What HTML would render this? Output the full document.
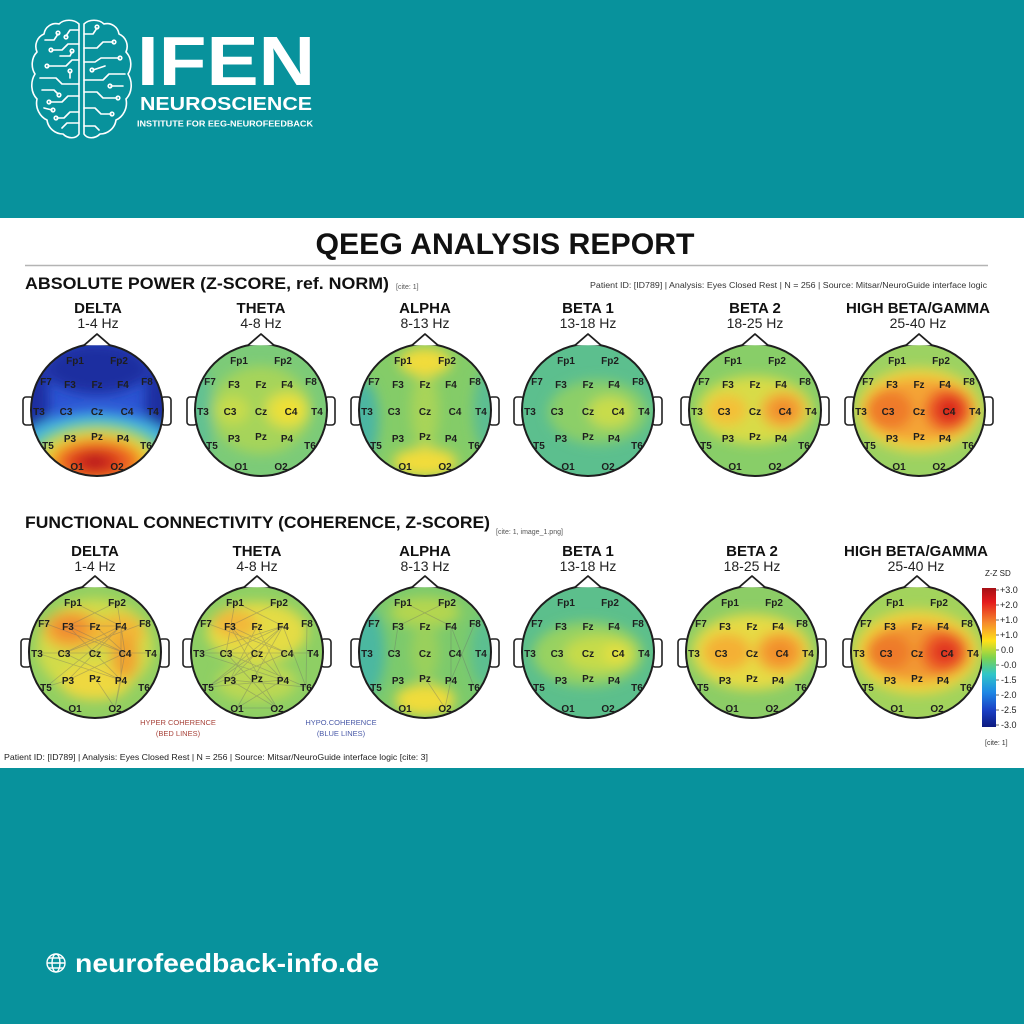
<!DOCTYPE html>
<html><head><meta charset="utf-8">
<style>
html,body{margin:0;padding:0;background:#08929c;}
svg{display:block;}
.lb text{font-family:"Liberation Sans",sans-serif;font-weight:bold;font-size:10px;text-anchor:middle;fill:#1e1e1e;}
.ear{fill:#fff;stroke:#222;stroke-width:1.6;}
.hd{fill:none;stroke:#1e1e1e;stroke-width:2;}
.ns{fill:#fff;stroke:#1e1e1e;stroke-width:1.8;stroke-linejoin:round;}
.bt{font-family:"Liberation Sans",sans-serif;font-weight:bold;font-size:15px;text-anchor:middle;fill:#111;}
.hz{font-family:"Liberation Sans",sans-serif;font-size:14px;text-anchor:middle;fill:#222;}
.cn{fill:none;stroke:#6a6a6a;stroke-opacity:0.38;stroke-width:0.8;}
.ck text{font-family:"Liberation Sans",sans-serif;font-size:9px;fill:#222;}
</style></head>
<body>
<svg width="1024" height="1024" viewBox="0 0 1024 1024" xmlns="http://www.w3.org/2000/svg">
<defs>
<clipPath id="hc"><circle cx="0" cy="0" r="66"/></clipPath>
<filter id="bl" filterUnits="userSpaceOnUse" x="-100" y="-100" width="200" height="200"><feGaussianBlur stdDeviation="6"/></filter>
<linearGradient id="cb" x1="0" y1="0" x2="0" y2="1">
<stop offset="0" stop-color="#a50f15"/><stop offset="0.1" stop-color="#e41a1c"/><stop offset="0.25" stop-color="#f58a2c"/><stop offset="0.38" stop-color="#ffe119"/><stop offset="0.5" stop-color="#7fd34e"/><stop offset="0.62" stop-color="#2fc6c8"/><stop offset="0.75" stop-color="#1e88e5"/><stop offset="0.88" stop-color="#1a3fc4"/><stop offset="1" stop-color="#0d1a80"/>
</linearGradient>
</defs>

<rect x="0" y="0" width="1024" height="1024" fill="#08929c"/>

<!-- LOGO -->
<g fill="none" stroke="#fff" stroke-width="1.6" stroke-linejoin="round" stroke-linecap="round">
<g>
<path d="M79,24 C74,19 64,19 59,24 C52,22 45,27 44,34 C37,37 34,45 37,52 C31,58 31,68 35,74 C30,82 31,93 37,99 C35,108 40,117 47,120 C48,128 55,134 63,134 C68,139 76,139 79,134 Z"/>
<path d="M79,30 L70,30 L66,36"/><circle cx="66" cy="37" r="1.8"/>
<path d="M79,44 L68,44 L62,50 L52,50"/><circle cx="51" cy="50" r="1.8"/>
<path d="M45,40 L54,40 L58,34"/><circle cx="58" cy="33" r="1.8"/>
<path d="M79,60 L72,60 L66,66 L48,66"/><circle cx="47" cy="66" r="1.8"/>
<path d="M40,78 L56,78 L62,84 L79,84"/>
<path d="M79,96 L68,96 L62,102 L50,102"/><circle cx="49" cy="102" r="1.8"/>
<path d="M42,90 L54,90 L58,94"/><circle cx="59" cy="95" r="1.8"/>
<path d="M79,112 L70,112 L64,118 L57,118"/><circle cx="56" cy="118" r="1.8"/>
<path d="M62,128 L67,123 L79,123"/>
<path d="M60,56 L70,56 L72,52"/><circle cx="72" cy="51" r="1.8"/>
<path d="M44,108 L52,110"/><circle cx="53" cy="110" r="1.8"/>
<path d="M70,72 L70,78"/><circle cx="70" cy="71" r="1.8"/>
</g>
<g transform="translate(163,0) scale(-1,1)">
<path d="M79,24 C74,19 64,19 59,24 C52,22 45,27 44,34 C37,37 34,45 37,52 C31,58 31,68 35,74 C30,82 31,93 37,99 C35,108 40,117 47,120 C48,128 55,134 63,134 C68,139 76,139 79,134 Z"/>
<path d="M79,34 L70,34 L66,28"/><circle cx="66" cy="27" r="1.8"/>
<path d="M79,48 L66,48 L60,42 L50,42"/><circle cx="49" cy="42" r="1.8"/>
<path d="M79,62 L68,62 L62,58 L44,58"/><circle cx="43" cy="58" r="1.8"/>
<path d="M38,74 L54,74 L60,80 L79,80"/>
<path d="M79,92 L66,92 L60,98 L46,98"/><circle cx="45" cy="98" r="1.8"/>
<path d="M40,86 L52,86"/><circle cx="53" cy="86" r="1.8"/>
<path d="M79,108 L68,108 L62,114 L52,114"/><circle cx="51" cy="114" r="1.8"/>
<path d="M64,130 L68,126 L79,126"/>
<path d="M58,66 L70,70"/><circle cx="71" cy="70" r="1.8"/>
</g>
</g>
<text x="137" y="85" font-family="Liberation Sans, sans-serif" font-weight="bold" font-size="70" fill="#fff" textLength="178" lengthAdjust="spacingAndGlyphs">IFEN</text>
<text x="140" y="110" font-family="Liberation Sans, sans-serif" font-weight="bold" font-size="18" fill="#fff" textLength="172" lengthAdjust="spacingAndGlyphs">NEUROSCIENCE</text>
<text x="137" y="126.5" font-family="Liberation Sans, sans-serif" font-weight="bold" font-size="8.5" fill="#fff" textLength="176" lengthAdjust="spacingAndGlyphs">INSTITUTE FOR EEG-NEUROFEEDBACK</text>

<!-- WHITE PANEL -->
<rect x="0" y="218" width="1024" height="550" fill="#ffffff"/>
<text x="505" y="254" text-anchor="middle" font-family="Liberation Sans, sans-serif" font-weight="bold" font-size="30" fill="#111" textLength="379" lengthAdjust="spacingAndGlyphs">QEEG ANALYSIS REPORT</text>
<line x1="25" y1="265.5" x2="988" y2="265.5" stroke="#b4b4b4" stroke-width="1.5"/>
<text x="25" y="289" font-family="Liberation Sans, sans-serif" font-weight="bold" font-size="17" fill="#111" textLength="364" lengthAdjust="spacingAndGlyphs">ABSOLUTE POWER (Z-SCORE, ref. NORM)</text>
<text x="396" y="289" font-family="Liberation Sans, sans-serif" font-size="7" fill="#555">[cite: 1]</text>
<text x="590" y="288" font-family="Liberation Sans, sans-serif" font-size="8" fill="#333" textLength="397" lengthAdjust="spacingAndGlyphs">Patient ID: [ID789] | Analysis: Eyes Closed Rest | N = 256 | Source: Mitsar/NeuroGuide interface logic</text>

<!-- ROW 1 TITLES -->
<text class="bt" x="98" y="313">DELTA</text><text class="hz" x="98" y="328">1-4 Hz</text>
<text class="bt" x="261" y="313">THETA</text><text class="hz" x="261" y="328">4-8 Hz</text>
<text class="bt" x="425" y="313">ALPHA</text><text class="hz" x="425" y="328">8-13 Hz</text>
<text class="bt" x="588" y="313">BETA 1</text><text class="hz" x="588" y="328">13-18 Hz</text>
<text class="bt" x="755" y="313">BETA 2</text><text class="hz" x="755" y="328">18-25 Hz</text>
<text class="bt" x="918" y="313" textLength="144" lengthAdjust="spacingAndGlyphs">HIGH BETA/GAMMA</text><text class="hz" x="918" y="328">25-40 Hz</text>

<!-- ROW 1 HEADS -->
<g transform="translate(97,410)">
<rect x="-74" y="-13" width="10" height="28" rx="3" class="ear"/><rect x="64" y="-13" width="10" height="28" rx="3" class="ear"/>
<g clip-path="url(#hc)"><rect x="-70" y="-70" width="140" height="140" fill="#2d56d4"/>
<g filter="url(#bl)">
<ellipse cx="0" cy="-42" rx="52" ry="26" fill="#1f2fa0"/>
<ellipse cx="-62" cy="-8" rx="14" ry="40" fill="#1f2fa0"/><ellipse cx="62" cy="-8" rx="14" ry="40" fill="#1f2fa0"/>
<ellipse cx="0" cy="52" rx="88" ry="50" fill="#3fb2e6"/>
<ellipse cx="0" cy="52" rx="72" ry="40" fill="#6ccc7a"/>
<ellipse cx="0" cy="52" rx="60" ry="32" fill="#dadf40"/>
<ellipse cx="0" cy="52" rx="50" ry="26" fill="#f4a828"/>
<ellipse cx="0" cy="52" rx="40" ry="20" fill="#ec6424"/>
<ellipse cx="-2" cy="52" rx="26" ry="13" fill="#d6301e"/>
<ellipse cx="-2" cy="52" rx="12" ry="6" fill="#b4161a"/>
</g></g>
<circle r="66" class="hd"/><path d="M-13,-64.7 L0,-76 L13,-64.7" class="ns"/>
<g class="lb"><text x="-22" y="-46">Fp1</text><text x="22" y="-46">Fp2</text><text x="-51" y="-25">F7</text><text x="-27" y="-22">F3</text><text x="0" y="-22">Fz</text><text x="26" y="-22">F4</text><text x="50" y="-25">F8</text><text x="-58" y="5">T3</text><text x="-31" y="5">C3</text><text x="0" y="5">Cz</text><text x="30" y="5">C4</text><text x="56" y="5">T4</text><text x="-49" y="39">T5</text><text x="-27" y="32">P3</text><text x="0" y="30">Pz</text><text x="26" y="32">P4</text><text x="49" y="39">T6</text><text x="-20" y="60">O1</text><text x="20" y="60">O2</text></g>
</g>

<g transform="translate(261,410)">
<rect x="-74" y="-13" width="10" height="28" rx="3" class="ear"/><rect x="64" y="-13" width="10" height="28" rx="3" class="ear"/>
<g clip-path="url(#hc)"><rect x="-70" y="-70" width="140" height="140" fill="#7ccb78"/>
<g filter="url(#bl)">
<ellipse cx="-62" cy="5" rx="14" ry="50" fill="#62c192"/>
<ellipse cx="0" cy="0" rx="50" ry="44" fill="#a6d45a"/>
<ellipse cx="-28" cy="0" rx="16" ry="14" fill="#c8dc4c"/>
<ellipse cx="26" cy="0" rx="22" ry="18" fill="#e0df42"/>
<ellipse cx="28" cy="0" rx="12" ry="10" fill="#f2e032"/>
</g></g>
<circle r="66" class="hd"/><path d="M-13,-64.7 L0,-76 L13,-64.7" class="ns"/>
<g class="lb"><text x="-22" y="-46">Fp1</text><text x="22" y="-46">Fp2</text><text x="-51" y="-25">F7</text><text x="-27" y="-22">F3</text><text x="0" y="-22">Fz</text><text x="26" y="-22">F4</text><text x="50" y="-25">F8</text><text x="-58" y="5">T3</text><text x="-31" y="5">C3</text><text x="0" y="5">Cz</text><text x="30" y="5">C4</text><text x="56" y="5">T4</text><text x="-49" y="39">T5</text><text x="-27" y="32">P3</text><text x="0" y="30">Pz</text><text x="26" y="32">P4</text><text x="49" y="39">T6</text><text x="-20" y="60">O1</text><text x="20" y="60">O2</text></g>
</g>

<g transform="translate(425,410)">
<rect x="-74" y="-13" width="10" height="28" rx="3" class="ear"/><rect x="64" y="-13" width="10" height="28" rx="3" class="ear"/>
<g clip-path="url(#hc)"><rect x="-70" y="-70" width="140" height="140" fill="#84cc68"/>
<g filter="url(#bl)">
<ellipse cx="-62" cy="10" rx="16" ry="40" fill="#4cb6a2"/>
<ellipse cx="62" cy="0" rx="14" ry="40" fill="#5cbd92"/>
<ellipse cx="0" cy="0" rx="14" ry="40" fill="#a8d458"/>
<ellipse cx="0" cy="-48" rx="26" ry="14" fill="#f2dc3a"/>
<ellipse cx="0" cy="52" rx="32" ry="14" fill="#f2dc3a"/>
</g></g>
<circle r="66" class="hd"/><path d="M-13,-64.7 L0,-76 L13,-64.7" class="ns"/>
<g class="lb"><text x="-22" y="-46">Fp1</text><text x="22" y="-46">Fp2</text><text x="-51" y="-25">F7</text><text x="-27" y="-22">F3</text><text x="0" y="-22">Fz</text><text x="26" y="-22">F4</text><text x="50" y="-25">F8</text><text x="-58" y="5">T3</text><text x="-31" y="5">C3</text><text x="0" y="5">Cz</text><text x="30" y="5">C4</text><text x="56" y="5">T4</text><text x="-49" y="39">T5</text><text x="-27" y="32">P3</text><text x="0" y="30">Pz</text><text x="26" y="32">P4</text><text x="49" y="39">T6</text><text x="-20" y="60">O1</text><text x="20" y="60">O2</text></g>
</g>

<g transform="translate(588,410)">
<rect x="-74" y="-13" width="10" height="28" rx="3" class="ear"/><rect x="64" y="-13" width="10" height="28" rx="3" class="ear"/>
<g clip-path="url(#hc)"><rect x="-70" y="-70" width="140" height="140" fill="#5cbf8e"/>
<g filter="url(#bl)">
<ellipse cx="10" cy="2" rx="50" ry="32" fill="#8ccf68"/>
<ellipse cx="22" cy="2" rx="22" ry="16" fill="#c8dc4c"/>
</g></g>
<circle r="66" class="hd"/><path d="M-13,-64.7 L0,-76 L13,-64.7" class="ns"/>
<g class="lb"><text x="-22" y="-46">Fp1</text><text x="22" y="-46">Fp2</text><text x="-51" y="-25">F7</text><text x="-27" y="-22">F3</text><text x="0" y="-22">Fz</text><text x="26" y="-22">F4</text><text x="50" y="-25">F8</text><text x="-58" y="5">T3</text><text x="-31" y="5">C3</text><text x="0" y="5">Cz</text><text x="30" y="5">C4</text><text x="56" y="5">T4</text><text x="-49" y="39">T5</text><text x="-27" y="32">P3</text><text x="0" y="30">Pz</text><text x="26" y="32">P4</text><text x="49" y="39">T6</text><text x="-20" y="60">O1</text><text x="20" y="60">O2</text></g>
</g>

<g transform="translate(755,410)">
<rect x="-74" y="-13" width="10" height="28" rx="3" class="ear"/><rect x="64" y="-13" width="10" height="28" rx="3" class="ear"/>
<g clip-path="url(#hc)"><rect x="-70" y="-70" width="140" height="140" fill="#88ce68"/>
<g filter="url(#bl)">
<ellipse cx="0" cy="0" rx="58" ry="34" fill="#d8dc46"/>
<ellipse cx="-28" cy="0" rx="20" ry="15" fill="#f4c038"/>
<ellipse cx="28" cy="0" rx="22" ry="18" fill="#f4a434"/>
<ellipse cx="28" cy="0" rx="11" ry="9" fill="#f0882c"/>
</g></g>
<circle r="66" class="hd"/><path d="M-13,-64.7 L0,-76 L13,-64.7" class="ns"/>
<g class="lb"><text x="-22" y="-46">Fp1</text><text x="22" y="-46">Fp2</text><text x="-51" y="-25">F7</text><text x="-27" y="-22">F3</text><text x="0" y="-22">Fz</text><text x="26" y="-22">F4</text><text x="50" y="-25">F8</text><text x="-58" y="5">T3</text><text x="-31" y="5">C3</text><text x="0" y="5">Cz</text><text x="30" y="5">C4</text><text x="56" y="5">T4</text><text x="-49" y="39">T5</text><text x="-27" y="32">P3</text><text x="0" y="30">Pz</text><text x="26" y="32">P4</text><text x="49" y="39">T6</text><text x="-20" y="60">O1</text><text x="20" y="60">O2</text></g>
</g>

<g transform="translate(919,410)">
<rect x="-74" y="-13" width="10" height="28" rx="3" class="ear"/><rect x="64" y="-13" width="10" height="28" rx="3" class="ear"/>
<g clip-path="url(#hc)"><rect x="-70" y="-70" width="140" height="140" fill="#9cd262"/>
<g filter="url(#bl)">
<ellipse cx="0" cy="0" rx="62" ry="42" fill="#eed640"/>
<ellipse cx="0" cy="0" rx="54" ry="32" fill="#f4a436"/>
<ellipse cx="-30" cy="0" rx="24" ry="20" fill="#ef7a2c"/>
<ellipse cx="30" cy="0" rx="24" ry="22" fill="#ec5628"/>
<ellipse cx="30" cy="0" rx="12" ry="12" fill="#d8221e"/>
</g></g>
<circle r="66" class="hd"/><path d="M-13,-64.7 L0,-76 L13,-64.7" class="ns"/>
<g class="lb"><text x="-22" y="-46">Fp1</text><text x="22" y="-46">Fp2</text><text x="-51" y="-25">F7</text><text x="-27" y="-22">F3</text><text x="0" y="-22">Fz</text><text x="26" y="-22">F4</text><text x="50" y="-25">F8</text><text x="-58" y="5">T3</text><text x="-31" y="5">C3</text><text x="0" y="5">Cz</text><text x="30" y="5">C4</text><text x="56" y="5">T4</text><text x="-49" y="39">T5</text><text x="-27" y="32">P3</text><text x="0" y="30">Pz</text><text x="26" y="32">P4</text><text x="49" y="39">T6</text><text x="-20" y="60">O1</text><text x="20" y="60">O2</text></g>
</g>

<!-- SECTION 2 -->
<text x="25" y="528" font-family="Liberation Sans, sans-serif" font-weight="bold" font-size="17" fill="#111" textLength="465" lengthAdjust="spacingAndGlyphs">FUNCTIONAL CONNECTIVITY (COHERENCE, Z-SCORE)</text>
<text x="496" y="534" font-family="Liberation Sans, sans-serif" font-size="7" fill="#555">[cite: 1, image_1.png]</text>

<text class="bt" x="95" y="556">DELTA</text><text class="hz" x="95" y="571">1-4 Hz</text>
<text class="bt" x="257" y="556">THETA</text><text class="hz" x="257" y="571">4-8 Hz</text>
<text class="bt" x="425" y="556">ALPHA</text><text class="hz" x="425" y="571">8-13 Hz</text>
<text class="bt" x="588" y="556">BETA 1</text><text class="hz" x="588" y="571">13-18 Hz</text>
<text class="bt" x="752" y="556">BETA 2</text><text class="hz" x="752" y="571">18-25 Hz</text>
<text class="bt" x="916" y="556" textLength="144" lengthAdjust="spacingAndGlyphs">HIGH BETA/GAMMA</text><text class="hz" x="916" y="571">25-40 Hz</text>

<g transform="translate(95,652)">
<rect x="-74" y="-13" width="10" height="28" rx="3" class="ear"/><rect x="64" y="-13" width="10" height="28" rx="3" class="ear"/>
<g clip-path="url(#hc)"><rect x="-70" y="-70" width="140" height="140" fill="#92cf62"/>
<g filter="url(#bl)">
<ellipse cx="0" cy="-5" rx="58" ry="48" fill="#d2db48"/>
<ellipse cx="0" cy="30" rx="35" ry="18" fill="#eed840"/>
<ellipse cx="-22" cy="-22" rx="30" ry="20" fill="#f2b036"/>
<ellipse cx="-25" cy="-24" rx="18" ry="12" fill="#f08c30"/>
<ellipse cx="25" cy="-20" rx="24" ry="18" fill="#f2b838"/>
<ellipse cx="30" cy="5" rx="14" ry="22" fill="#f0a432"/>
</g></g>
<path class="cn" d="M-27,-26L26,-26M-22,-50L26,-26M22,-50L-27,-26M-27,-26L30,1M26,-26L-31,1M26,-26L-27,28M26,-26L-49,35M-27,-26L26,28M0,-26L30,1M-31,1L30,1M-58,1L-31,1M30,1L56,1M-31,1L26,28M-49,35L-27,28M-27,28L30,1M26,28L20,56M26,-26L30,1M26,-26L26,28M22,-50L30,1M30,1L20,56M-51,-29L30,1M-58,1L26,28M0,26L20,56M50,-29L-31,1"/>
<circle r="66" class="hd"/><path d="M-13,-64.7 L0,-76 L13,-64.7" class="ns"/>
<g class="lb"><text x="-22" y="-46">Fp1</text><text x="22" y="-46">Fp2</text><text x="-51" y="-25">F7</text><text x="-27" y="-22">F3</text><text x="0" y="-22">Fz</text><text x="26" y="-22">F4</text><text x="50" y="-25">F8</text><text x="-58" y="5">T3</text><text x="-31" y="5">C3</text><text x="0" y="5">Cz</text><text x="30" y="5">C4</text><text x="56" y="5">T4</text><text x="-49" y="39">T5</text><text x="-27" y="32">P3</text><text x="0" y="30">Pz</text><text x="26" y="32">P4</text><text x="49" y="39">T6</text><text x="-20" y="60">O1</text><text x="20" y="60">O2</text></g>
</g>

<g transform="translate(257,652)">
<rect x="-74" y="-13" width="10" height="28" rx="3" class="ear"/><rect x="64" y="-13" width="10" height="28" rx="3" class="ear"/>
<g clip-path="url(#hc)"><rect x="-70" y="-70" width="140" height="140" fill="#8ecf64"/>
<g filter="url(#bl)">
<ellipse cx="0" cy="-20" rx="50" ry="30" fill="#e4dc44"/>
<ellipse cx="-22" cy="-28" rx="22" ry="14" fill="#f2b83a"/>
<ellipse cx="0" cy="30" rx="40" ry="20" fill="#bcd852"/>
</g></g>
<path class="cn" d="M-58,1L-31,1M-31,1L30,1M30,1L56,1M-49,35L26,-26M-49,35L30,1M-49,35L26,28M-58,1L26,28M-58,1L26,-26M-27,-26L26,28M-27,-26L20,56M-27,-26L30,1M26,-26L-27,28M26,-26L-20,56M26,-26L-31,1M-31,1L49,35M-31,1L20,56M-20,56L20,56M-27,28L49,35M0,-26L-27,28M0,-26L26,28M-51,-29L30,1M-22,-50L-31,1M-22,-50L26,-26M22,-50L-27,-26M50,-29L49,35M26,-26L49,35M-27,28L20,56M26,28L-20,56M0,1L-49,35"/>
<circle r="66" class="hd"/><path d="M-13,-64.7 L0,-76 L13,-64.7" class="ns"/>
<g class="lb"><text x="-22" y="-46">Fp1</text><text x="22" y="-46">Fp2</text><text x="-51" y="-25">F7</text><text x="-27" y="-22">F3</text><text x="0" y="-22">Fz</text><text x="26" y="-22">F4</text><text x="50" y="-25">F8</text><text x="-58" y="5">T3</text><text x="-31" y="5">C3</text><text x="0" y="5">Cz</text><text x="30" y="5">C4</text><text x="56" y="5">T4</text><text x="-49" y="39">T5</text><text x="-27" y="32">P3</text><text x="0" y="30">Pz</text><text x="26" y="32">P4</text><text x="49" y="39">T6</text><text x="-20" y="60">O1</text><text x="20" y="60">O2</text></g>
</g>

<g transform="translate(425,652)">
<rect x="-74" y="-13" width="10" height="28" rx="3" class="ear"/><rect x="64" y="-13" width="10" height="28" rx="3" class="ear"/>
<g clip-path="url(#hc)"><rect x="-70" y="-70" width="140" height="140" fill="#7cca6c"/>
<g filter="url(#bl)">
<ellipse cx="-60" cy="0" rx="20" ry="45" fill="#4cb8a0"/>
<ellipse cx="60" cy="0" rx="15" ry="35" fill="#5cbf90"/>
<ellipse cx="0" cy="-40" rx="35" ry="15" fill="#b4d650"/>
<ellipse cx="0" cy="0" rx="14" ry="30" fill="#9ad05c"/>
<ellipse cx="0" cy="48" rx="30" ry="16" fill="#f0dc3a"/>
</g></g>
<path class="cn" d="M-22,-50L26,-26M22,-50L-27,-26M-27,-26L-31,1M26,-26L26,28M50,-29L26,28M26,28L20,56M26,-26L49,35M0,26L20,56"/>
<circle r="66" class="hd"/><path d="M-13,-64.7 L0,-76 L13,-64.7" class="ns"/>
<g class="lb"><text x="-22" y="-46">Fp1</text><text x="22" y="-46">Fp2</text><text x="-51" y="-25">F7</text><text x="-27" y="-22">F3</text><text x="0" y="-22">Fz</text><text x="26" y="-22">F4</text><text x="50" y="-25">F8</text><text x="-58" y="5">T3</text><text x="-31" y="5">C3</text><text x="0" y="5">Cz</text><text x="30" y="5">C4</text><text x="56" y="5">T4</text><text x="-49" y="39">T5</text><text x="-27" y="32">P3</text><text x="0" y="30">Pz</text><text x="26" y="32">P4</text><text x="49" y="39">T6</text><text x="-20" y="60">O1</text><text x="20" y="60">O2</text></g>
</g>

<g transform="translate(588,652)">
<rect x="-74" y="-13" width="10" height="28" rx="3" class="ear"/><rect x="64" y="-13" width="10" height="28" rx="3" class="ear"/>
<g clip-path="url(#hc)"><rect x="-70" y="-70" width="140" height="140" fill="#5cbf8c"/>
<g filter="url(#bl)">
<ellipse cx="0" cy="2" rx="55" ry="32" fill="#98d260"/>
<ellipse cx="12" cy="2" rx="36" ry="18" fill="#c6db4a"/>
<ellipse cx="28" cy="2" rx="12" ry="10" fill="#e4e040"/>
</g></g>
<circle r="66" class="hd"/><path d="M-13,-64.7 L0,-76 L13,-64.7" class="ns"/>
<g class="lb"><text x="-22" y="-46">Fp1</text><text x="22" y="-46">Fp2</text><text x="-51" y="-25">F7</text><text x="-27" y="-22">F3</text><text x="0" y="-22">Fz</text><text x="26" y="-22">F4</text><text x="50" y="-25">F8</text><text x="-58" y="5">T3</text><text x="-31" y="5">C3</text><text x="0" y="5">Cz</text><text x="30" y="5">C4</text><text x="56" y="5">T4</text><text x="-49" y="39">T5</text><text x="-27" y="32">P3</text><text x="0" y="30">Pz</text><text x="26" y="32">P4</text><text x="49" y="39">T6</text><text x="-20" y="60">O1</text><text x="20" y="60">O2</text></g>
</g>

<g transform="translate(752,652)">
<rect x="-74" y="-13" width="10" height="28" rx="3" class="ear"/><rect x="64" y="-13" width="10" height="28" rx="3" class="ear"/>
<g clip-path="url(#hc)"><rect x="-70" y="-70" width="140" height="140" fill="#8ccd66"/>
<g filter="url(#bl)">
<ellipse cx="0" cy="0" rx="60" ry="38" fill="#e6db44"/>
<ellipse cx="-25" cy="0" rx="24" ry="18" fill="#f4b034"/>
<ellipse cx="28" cy="0" rx="24" ry="20" fill="#f4a030"/>
<ellipse cx="28" cy="0" rx="12" ry="10" fill="#f08a2c"/>
</g></g>
<circle r="66" class="hd"/><path d="M-13,-64.7 L0,-76 L13,-64.7" class="ns"/>
<g class="lb"><text x="-22" y="-46">Fp1</text><text x="22" y="-46">Fp2</text><text x="-51" y="-25">F7</text><text x="-27" y="-22">F3</text><text x="0" y="-22">Fz</text><text x="26" y="-22">F4</text><text x="50" y="-25">F8</text><text x="-58" y="5">T3</text><text x="-31" y="5">C3</text><text x="0" y="5">Cz</text><text x="30" y="5">C4</text><text x="56" y="5">T4</text><text x="-49" y="39">T5</text><text x="-27" y="32">P3</text><text x="0" y="30">Pz</text><text x="26" y="32">P4</text><text x="49" y="39">T6</text><text x="-20" y="60">O1</text><text x="20" y="60">O2</text></g>
</g>

<g transform="translate(917,652)">
<rect x="-74" y="-13" width="10" height="28" rx="3" class="ear"/><rect x="64" y="-13" width="10" height="28" rx="3" class="ear"/>
<g clip-path="url(#hc)"><rect x="-70" y="-70" width="140" height="140" fill="#a2d35c"/>
<g filter="url(#bl)">
<ellipse cx="0" cy="0" rx="62" ry="42" fill="#f0d43c"/>
<ellipse cx="0" cy="0" rx="52" ry="30" fill="#f29a32"/>
<ellipse cx="-28" cy="0" rx="22" ry="18" fill="#ee7a2c"/>
<ellipse cx="28" cy="0" rx="24" ry="22" fill="#ec5a26"/>
<ellipse cx="28" cy="0" rx="12" ry="10" fill="#de2a20"/>
</g></g>
<circle r="66" class="hd"/><path d="M-13,-64.7 L0,-76 L13,-64.7" class="ns"/>
<g class="lb"><text x="-22" y="-46">Fp1</text><text x="22" y="-46">Fp2</text><text x="-51" y="-25">F7</text><text x="-27" y="-22">F3</text><text x="0" y="-22">Fz</text><text x="26" y="-22">F4</text><text x="50" y="-25">F8</text><text x="-58" y="5">T3</text><text x="-31" y="5">C3</text><text x="0" y="5">Cz</text><text x="30" y="5">C4</text><text x="56" y="5">T4</text><text x="-49" y="39">T5</text><text x="-27" y="32">P3</text><text x="0" y="30">Pz</text><text x="26" y="32">P4</text><text x="49" y="39">T6</text><text x="-20" y="60">O1</text><text x="20" y="60">O2</text></g>
</g>

<!-- LEGEND NOTES -->
<g font-family="Liberation Sans, sans-serif" font-size="7.5" text-anchor="middle">
<text x="178" y="725" fill="#a8433a">HYPER COHERENCE</text>
<text x="178" y="736" fill="#a8433a">(BED LINES)</text>
<text x="341" y="725" fill="#4a5aa8">HYPO.COHERENCE</text>
<text x="341" y="736" fill="#4a5aa8">(BLUE LINES)</text>
</g>

<!-- COLORBAR -->
<text x="985" y="576" font-family="Liberation Sans, sans-serif" font-size="8" fill="#222">Z-Z SD</text>
<rect x="982" y="588" width="14" height="139" fill="url(#cb)"/>
<g stroke="#444" stroke-width="0.8">
<line x1="996" y1="590" x2="999" y2="590"/><line x1="996" y1="605" x2="999" y2="605"/><line x1="996" y1="620" x2="999" y2="620"/><line x1="996" y1="635" x2="999" y2="635"/><line x1="996" y1="650" x2="999" y2="650"/><line x1="996" y1="665" x2="999" y2="665"/><line x1="996" y1="680" x2="999" y2="680"/><line x1="996" y1="695" x2="999" y2="695"/><line x1="996" y1="710" x2="999" y2="710"/><line x1="996" y1="725" x2="999" y2="725"/>
</g>
<g class="ck">
<text x="1000" y="593">+3.0</text><text x="1000" y="608">+2.0</text><text x="1000" y="623">+1.0</text><text x="1000" y="638">+1.0</text><text x="1001" y="653">0.0</text><text x="1001" y="668">-0.0</text><text x="1001" y="683">-1.5</text><text x="1001" y="698">-2.0</text><text x="1001" y="713">-2.5</text><text x="1001" y="728">-3.0</text>
</g>
<text x="985" y="745" font-family="Liberation Sans, sans-serif" font-size="7" fill="#333">[cite: 1]</text>

<!-- FOOTER LINE -->
<text x="4" y="760" font-family="Liberation Sans, sans-serif" font-size="8.5" fill="#222" textLength="424" lengthAdjust="spacingAndGlyphs">Patient ID: [ID789] | Analysis: Eyes Closed Rest | N = 256 | Source: Mitsar/NeuroGuide interface logic [cite: 3]</text>

<!-- WEBSITE -->
<g fill="none" stroke="#fff" stroke-width="1.4">
<circle cx="56" cy="963" r="9"/>
<ellipse cx="56" cy="963" rx="4" ry="9"/>
<line x1="47" y1="963" x2="65" y2="963"/>
<line x1="49" y1="958" x2="63" y2="958"/>
<line x1="49" y1="968" x2="63" y2="968"/>
</g>
<text x="75" y="972" font-family="Liberation Sans, sans-serif" font-weight="bold" font-size="26" fill="#fff" textLength="304" lengthAdjust="spacingAndGlyphs">neurofeedback-info.de</text>
</svg>
</body></html>
